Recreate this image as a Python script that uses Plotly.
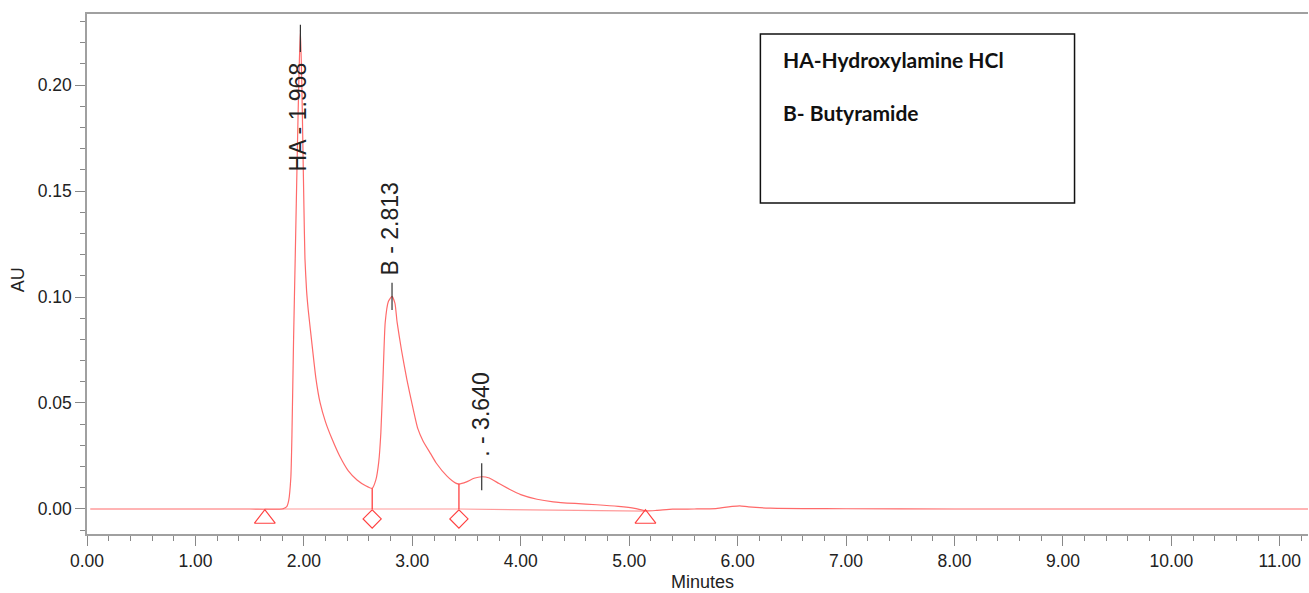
import plotly.graph_objects as go

# ---- data ----
time_min = [0.03, 0.50, 1.00, 1.50, 1.80, 1.84, 1.86, 1.88, 1.89, 1.905, 1.92, 1.94, 1.955, 1.968,
            1.98, 1.99, 2.00, 2.01, 2.025, 2.04, 2.07, 2.11, 2.15, 2.20, 2.26, 2.33, 2.41, 2.49,
            2.57, 2.63, 2.665, 2.69, 2.71, 2.73, 2.75, 2.78, 2.813, 2.84, 2.86, 2.90, 2.95, 3.00,
            3.05, 3.10, 3.17, 3.22, 3.32, 3.40, 3.43, 3.50, 3.57, 3.64, 3.71, 3.80, 3.90, 4.00,
            4.15, 4.30, 4.50, 4.70, 4.90, 5.05, 5.15, 5.25, 5.40, 5.60, 5.80, 5.95, 6.02, 6.10,
            6.30, 6.60, 7.00, 8.00, 9.00, 10.00, 11.00, 11.26]
absorbance = [0, 0, 0, 0, 0, 0.001, 0.004, 0.015, 0.035, 0.080, 0.118, 0.170, 0.205, 0.226,
              0.203, 0.174, 0.144, 0.118, 0.103, 0.094, 0.080, 0.062, 0.050, 0.041, 0.033, 0.025, 0.018, 0.0137,
              0.011, 0.0098, 0.014, 0.022, 0.036, 0.062, 0.088, 0.098, 0.1003, 0.097, 0.088, 0.075, 0.061, 0.049,
              0.038, 0.032, 0.026, 0.0217, 0.0155, 0.0122, 0.0118, 0.0128, 0.0145, 0.0152, 0.0146, 0.012, 0.0092, 0.0068,
              0.0046, 0.0034, 0.0026, 0.0020, 0.0012, 0.0003, -0.0009, -0.0007, -0.0001, 0.0, 0.0002, 0.0012, 0.0015, 0.0010,
              0.0004, 0.0002, 0.0001, 0.0, 0.0, 0.0, 0.0, 0.0]

peak_names = ["HA - 1.968", "B - 2.813", ". - 3.640"]
peak_times = [1.968, 2.813, 3.640]
peak_heights = [0.222, 0.1003, 0.0152]

baseline_times = [1.64, 2.63, 3.43, 5.15]
baseline_levels = [0.0, 0.0, 0.0, -0.001]
valley_times = [2.63, 3.43]
valley_heights = [0.0098, 0.0118]
start_end_times = [1.64, 5.15]

legend_lines = ["HA-Hydroxylamine HCl", "B- Butyramide"]

x_ticks = [0, 1, 2, 3, 4, 5, 6, 7, 8, 9, 10, 11]
y_ticks = [0.00, 0.05, 0.10, 0.15, 0.20]

# ---- figure ----
RED = "#ff6a6a"
fig = go.Figure()

# integration baselines
fig.add_trace(go.Scatter(x=baseline_times, y=baseline_levels, mode="lines",
                         line=dict(color="#ff9a9a", width=1.2), hoverinfo="skip"))

# chromatogram trace
fig.add_trace(go.Scatter(x=time_min, y=absorbance, mode="lines",
                         line=dict(color=RED, width=1.2, shape="spline", smoothing=0.5),
                         hoverinfo="skip"))

# drop lines at valleys
for t, h in zip(valley_times, valley_heights):
    fig.add_trace(go.Scatter(x=[t, t], y=[0, h], mode="lines",
                             line=dict(color="#ff3030", width=1.2), hoverinfo="skip"))

# peak apex ticks
for t, h in zip(peak_times, peak_heights):
    fig.add_trace(go.Scatter(x=[t, t], y=[h - 0.0064, h + 0.0064], mode="lines",
                             line=dict(color="#333333", width=1.2), hoverinfo="skip"))

# event markers
fig.add_trace(go.Scatter(x=start_end_times, y=[-0.0046] * len(start_end_times), mode="markers",
                         marker=dict(symbol="triangle-up-open", size=18, color="#ff4040",
                                     line=dict(width=1.2)), hoverinfo="skip"))
fig.add_trace(go.Scatter(x=valley_times, y=[-0.0047] * len(valley_times), mode="markers",
                         marker=dict(symbol="diamond-open", size=14, color="#ff4040",
                                     line=dict(width=1.2)), hoverinfo="skip"))

# peak labels
label_centers = [(1.95, 0.1849), (2.79, 0.1321), (3.63, 0.0443)]
for name, (lx, ly) in zip(peak_names, label_centers):
    fig.add_annotation(x=lx, y=ly, xref="x", yref="y", text=name, textangle=-90,
                       showarrow=False, xanchor="center", yanchor="middle",
                       font=dict(family="Liberation Sans, Arial", size=23, color="#222222"))

# legend box
fig.add_shape(type="rect", xref="x", yref="y", x0=6.21, x1=9.107, y0=0.1443, y1=0.2241,
              line=dict(color="#111111", width=1.5), fillcolor="rgba(0,0,0,0)")
for i, txt in enumerate(legend_lines):
    fig.add_annotation(x=6.40, y=[0.2122, 0.1872][i], xref="x", yref="y", text="<b>" + txt + "</b>",
                       showarrow=False, xanchor="left", yanchor="middle",
                       font=dict(family="Lato, Carlito, Calibri", size=21, color="#111111"))

# axis titles
fig.add_annotation(x=0, y=0.488, xref="paper", yref="paper", xshift=-69, text="AU", textangle=-90,
                   showarrow=False, xanchor="center", yanchor="middle",
                   font=dict(family="Liberation Sans, Arial", size=18, color="#222222"))
fig.add_annotation(x=0.5045, y=-0.092, xref="paper", yref="paper", text="Minutes",
                   showarrow=False, xanchor="center", yanchor="middle",
                   font=dict(family="Liberation Sans, Arial", size=18, color="#222222"))

axis_common = dict(showgrid=False, zeroline=False, showline=True, linecolor="#a0a0a0", linewidth=1.5,
                   ticks="outside", ticklen=10, tickwidth=1.2, tickcolor="#888888",
                   tickfont=dict(family="Liberation Sans, Arial", size=17.5, color="#222222"))

fig.update_xaxes(range=[0, 11.26], tickvals=x_ticks, ticktext=[f"{v:.2f}" for v in x_ticks],
                 mirror=True,
                 minor=dict(dtick=0.2, ticklen=5, tickcolor="#888888", ticks="outside", tickwidth=1.2),
                 **axis_common)
fig.update_yaxes(range=[-0.0118, 0.2335], tickvals=y_ticks, ticktext=[f"{v:.2f}" for v in y_ticks],
                 minor=dict(dtick=0.01, tick0=0, ticklen=5, tickcolor="#888888", ticks="outside", tickwidth=1.2),
                 **axis_common)

fig.update_layout(width=1309, height=593, showlegend=False,
                  margin=dict(l=87, r=1, t=14, b=59),
                  paper_bgcolor="white", plot_bgcolor="white")

fig.write_html("out.html")
